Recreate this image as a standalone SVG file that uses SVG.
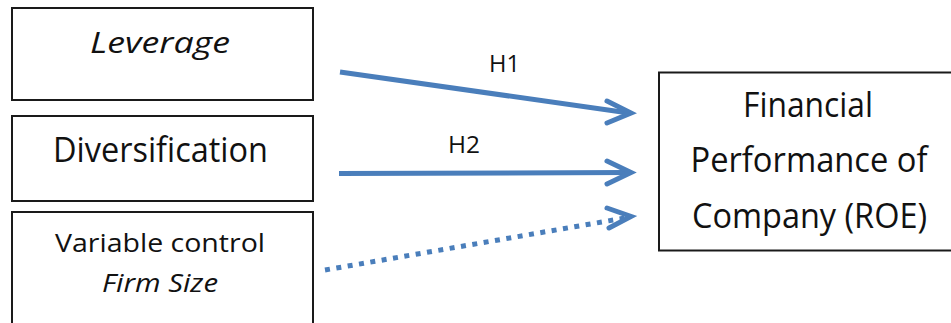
<svg xmlns="http://www.w3.org/2000/svg" width="951" height="323" viewBox="0 0 951 323">
<defs>
<style>
.box{fill:#fff;stroke:#1a1a1a;stroke-width:2}
.t{font-family:"Open Sans","Liberation Sans",sans-serif;fill:#111;text-anchor:middle}
.it{font-style:italic}
.con{fill:none;stroke:#4a7ebb;stroke-width:5;stroke-linecap:butt}
.head{fill:none;stroke:#4a7ebb;stroke-width:5;stroke-linecap:round;stroke-linejoin:miter}
.dot{stroke-dasharray:5 6.5}
.lbl{font-family:"Open Sans","Liberation Sans",sans-serif;fill:#111;font-size:24px}
</style>
</defs>
<rect width="951" height="323" fill="#fff"/>
<g id="node-leverage">
<rect class="box" x="12" y="8" width="301" height="92"/>
<text class="t it" x="160" y="53" font-size="30" textLength="140" lengthAdjust="spacingAndGlyphs">Leverage</text>
</g>
<g id="node-diversification">
<rect class="box" x="12" y="116" width="301" height="85"/>
<text class="t" x="160.5" y="162" font-size="34" textLength="215" lengthAdjust="spacingAndGlyphs">Diversification</text>
</g>
<g id="node-firmsize">
<rect class="box" x="12" y="212" width="301" height="130"/>
<text class="t" x="160" y="252" font-size="26" textLength="210" lengthAdjust="spacingAndGlyphs">Variable control</text>
<text class="t it" x="160" y="292" font-size="26" textLength="116" lengthAdjust="spacingAndGlyphs">Firm Size</text>
</g>
<g id="node-roe">
<rect class="box" x="659" y="72.5" width="320" height="178"/>
<text class="t" x="808" y="117" font-size="34" textLength="130" lengthAdjust="spacingAndGlyphs">Financial</text>
<text class="t" x="809" y="172" font-size="34" textLength="237" lengthAdjust="spacingAndGlyphs">Performance of</text>
<text class="t" x="809.5" y="228" font-size="34" textLength="235" lengthAdjust="spacingAndGlyphs">Company (ROE)</text>
</g>
<g id="connectors">
<line class="con" x1="340" y1="72" x2="629" y2="113"/>
<polyline class="head" points="607,101 631,113 607,123"/>
<text class="lbl" x="489" y="72" textLength="31" lengthAdjust="spacingAndGlyphs">H1</text>
<line class="con" x1="339" y1="173.5" x2="629" y2="172.5"/>
<polyline class="head" points="607,161 631,172.5 607,184"/>
<text class="lbl" x="448" y="153" textLength="32" lengthAdjust="spacingAndGlyphs">H2</text>
<line class="con dot" x1="325" y1="270" x2="625" y2="218"/>
<polyline class="head" points="607,208 631,216.5 609,228"/>
</g>
</svg>
